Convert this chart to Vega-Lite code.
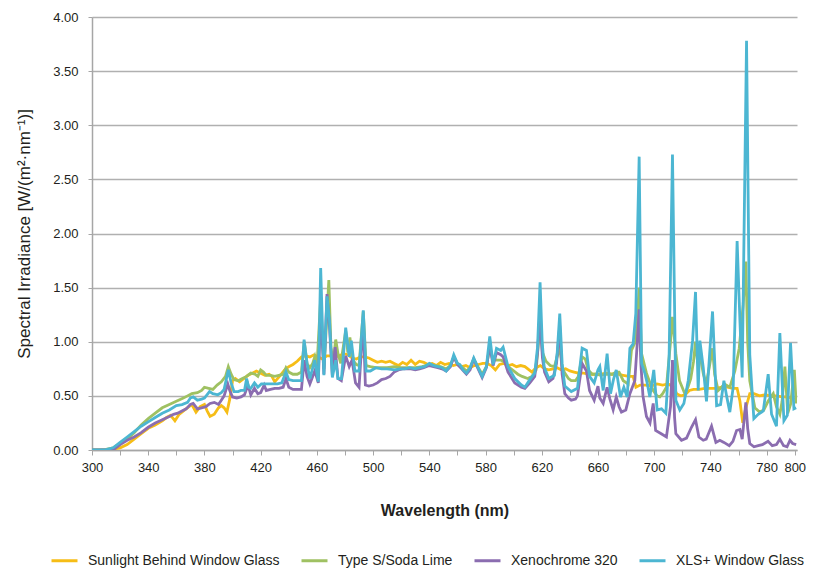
{
  "$schema": "https://vega.github.io/schema/vega-lite/v6.json",
  "width": 705,
  "height": 433,
  "autosize": {"type": "none"},
  "padding": {"left": 92, "top": 17, "right": 20, "bottom": 119},
  "background": "white",
  "config": {
    "font": "Liberation Sans, Arial",
    "view": {"stroke": null},
    "axis": {"labelColor": "#231f20", "titleColor": "#231f20", "domainColor": "#a6a6a6", "tickColor": "#a6a6a6", "gridColor": "#b0b0b0", "gridWidth": 1.5, "domainWidth": 1.5}
  },
  "datasets": {
    "sun": [{"nm":300,"v":0},{"nm":305,"v":0},{"nm":310,"v":0},{"nm":313,"v":0.005},{"nm":316,"v":0.01},{"nm":320,"v":0.02},{"nm":325,"v":0.05},{"nm":330,"v":0.1},{"nm":335,"v":0.15},{"nm":340,"v":0.2},{"nm":345,"v":0.23},{"nm":350,"v":0.27},{"nm":353,"v":0.3},{"nm":356,"v":0.32},{"nm":359,"v":0.27},{"nm":362,"v":0.33},{"nm":366,"v":0.37},{"nm":369,"v":0.4},{"nm":371,"v":0.42},{"nm":374,"v":0.35},{"nm":377,"v":0.4},{"nm":380,"v":0.42},{"nm":382,"v":0.36},{"nm":384,"v":0.31},{"nm":387,"v":0.33},{"nm":390,"v":0.39},{"nm":392,"v":0.41},{"nm":394,"v":0.39},{"nm":396,"v":0.35},{"nm":398,"v":0.47},{"nm":400,"v":0.64},{"nm":402,"v":0.66},{"nm":405,"v":0.63},{"nm":408,"v":0.66},{"nm":411,"v":0.69},{"nm":414,"v":0.71},{"nm":417,"v":0.73},{"nm":420,"v":0.71},{"nm":423,"v":0.69},{"nm":426,"v":0.7},{"nm":428,"v":0.68},{"nm":430,"v":0.63},{"nm":432,"v":0.66},{"nm":434,"v":0.69},{"nm":437,"v":0.74},{"nm":440,"v":0.77},{"nm":443,"v":0.79},{"nm":446,"v":0.82},{"nm":449,"v":0.86},{"nm":452,"v":0.87},{"nm":455,"v":0.86},{"nm":458,"v":0.88},{"nm":461,"v":0.86},{"nm":464,"v":0.84},{"nm":467,"v":0.87},{"nm":470,"v":0.87},{"nm":473,"v":0.86},{"nm":476,"v":0.87},{"nm":479,"v":0.89},{"nm":482,"v":0.88},{"nm":485,"v":0.85},{"nm":488,"v":0.84},{"nm":491,"v":0.86},{"nm":494,"v":0.86},{"nm":497,"v":0.85},{"nm":500,"v":0.83},{"nm":503,"v":0.81},{"nm":506,"v":0.82},{"nm":509,"v":0.81},{"nm":512,"v":0.82},{"nm":515,"v":0.8},{"nm":518,"v":0.78},{"nm":521,"v":0.81},{"nm":524,"v":0.79},{"nm":527,"v":0.83},{"nm":530,"v":0.79},{"nm":533,"v":0.82},{"nm":536,"v":0.81},{"nm":539,"v":0.79},{"nm":542,"v":0.8},{"nm":545,"v":0.78},{"nm":548,"v":0.81},{"nm":551,"v":0.79},{"nm":554,"v":0.8},{"nm":557,"v":0.78},{"nm":560,"v":0.79},{"nm":563,"v":0.77},{"nm":566,"v":0.78},{"nm":569,"v":0.76},{"nm":572,"v":0.78},{"nm":575,"v":0.79},{"nm":578,"v":0.8},{"nm":581,"v":0.8},{"nm":584,"v":0.78},{"nm":587,"v":0.74},{"nm":590,"v":0.79},{"nm":593,"v":0.8},{"nm":596,"v":0.78},{"nm":599,"v":0.79},{"nm":602,"v":0.77},{"nm":605,"v":0.78},{"nm":608,"v":0.77},{"nm":611,"v":0.74},{"nm":613,"v":0.72},{"nm":616,"v":0.76},{"nm":619,"v":0.78},{"nm":622,"v":0.75},{"nm":625,"v":0.74},{"nm":628,"v":0.75},{"nm":631,"v":0.76},{"nm":634,"v":0.74},{"nm":637,"v":0.75},{"nm":640,"v":0.73},{"nm":643,"v":0.72},{"nm":646,"v":0.71},{"nm":650,"v":0.71},{"nm":654,"v":0.7},{"nm":658,"v":0.7},{"nm":662,"v":0.7},{"nm":666,"v":0.71},{"nm":670,"v":0.7},{"nm":674,"v":0.7},{"nm":678,"v":0.69},{"nm":682,"v":0.68},{"nm":685,"v":0.68},{"nm":687,"v":0.58},{"nm":690,"v":0.6},{"nm":694,"v":0.6},{"nm":698,"v":0.59},{"nm":702,"v":0.61},{"nm":706,"v":0.6},{"nm":710,"v":0.61},{"nm":714,"v":0.58},{"nm":716,"v":0.52},{"nm":719,"v":0.5},{"nm":722,"v":0.51},{"nm":725,"v":0.55},{"nm":728,"v":0.56},{"nm":732,"v":0.56},{"nm":736,"v":0.57},{"nm":740,"v":0.57},{"nm":744,"v":0.57},{"nm":748,"v":0.58},{"nm":752,"v":0.58},{"nm":756,"v":0.57},{"nm":759,"v":0.57},{"nm":761,"v":0.45},{"nm":763,"v":0.25},{"nm":765,"v":0.38},{"nm":768,"v":0.52},{"nm":771,"v":0.52},{"nm":775,"v":0.5},{"nm":779,"v":0.51},{"nm":783,"v":0.5},{"nm":787,"v":0.5},{"nm":791,"v":0.49},{"nm":795,"v":0.49},{"nm":798,"v":0.48},{"nm":800,"v":0.47}],
    "typeS": [{"nm":300,"v":0},{"nm":305,"v":0},{"nm":310,"v":0.005},{"nm":315,"v":0.02},{"nm":320,"v":0.06},{"nm":325,"v":0.1},{"nm":330,"v":0.16},{"nm":335,"v":0.23},{"nm":340,"v":0.29},{"nm":345,"v":0.34},{"nm":350,"v":0.39},{"nm":355,"v":0.42},{"nm":360,"v":0.45},{"nm":365,"v":0.48},{"nm":368,"v":0.5},{"nm":371,"v":0.52},{"nm":375,"v":0.53},{"nm":378,"v":0.55},{"nm":380,"v":0.58},{"nm":383,"v":0.57},{"nm":386,"v":0.56},{"nm":389,"v":0.6},{"nm":392,"v":0.63},{"nm":395,"v":0.68},{"nm":397,"v":0.77},{"nm":399,"v":0.7},{"nm":401,"v":0.65},{"nm":404,"v":0.64},{"nm":407,"v":0.66},{"nm":410,"v":0.68},{"nm":413,"v":0.71},{"nm":416,"v":0.7},{"nm":418,"v":0.68},{"nm":420,"v":0.74},{"nm":422,"v":0.72},{"nm":424,"v":0.69},{"nm":427,"v":0.69},{"nm":430,"v":0.68},{"nm":433,"v":0.69},{"nm":436,"v":0.7},{"nm":438,"v":0.76},{"nm":440,"v":0.72},{"nm":443,"v":0.7},{"nm":446,"v":0.7},{"nm":449,"v":0.72},{"nm":451,"v":1.0},{"nm":453,"v":0.8},{"nm":455,"v":0.76},{"nm":457,"v":0.8},{"nm":458.5,"v":0.86},{"nm":460,"v":0.76},{"nm":462.7,"v":1.4},{"nm":465,"v":0.75},{"nm":467,"v":1.2},{"nm":468.5,"v":1.57},{"nm":470,"v":0.95},{"nm":471.5,"v":0.8},{"nm":473.4,"v":1.02},{"nm":475,"v":0.89},{"nm":477,"v":0.8},{"nm":480.5,"v":1.1},{"nm":482,"v":0.9},{"nm":483.5,"v":1.04},{"nm":485.5,"v":0.83},{"nm":488,"v":0.79},{"nm":490,"v":0.78},{"nm":493,"v":1.28},{"nm":495,"v":0.78},{"nm":498,"v":0.77},{"nm":502,"v":0.76},{"nm":506,"v":0.76},{"nm":510,"v":0.76},{"nm":515,"v":0.77},{"nm":520,"v":0.76},{"nm":525,"v":0.76},{"nm":530,"v":0.76},{"nm":535,"v":0.77},{"nm":540,"v":0.79},{"nm":544,"v":0.78},{"nm":548,"v":0.77},{"nm":552,"v":0.75},{"nm":555,"v":0.78},{"nm":557.4,"v":0.86},{"nm":560,"v":0.8},{"nm":563,"v":0.77},{"nm":566.4,"v":0.73},{"nm":569,"v":0.76},{"nm":571.6,"v":0.84},{"nm":574,"v":0.78},{"nm":577.6,"v":0.7},{"nm":580.6,"v":0.77},{"nm":583,"v":0.95},{"nm":585,"v":0.84},{"nm":588,"v":0.83},{"nm":591,"v":0.83},{"nm":594,"v":0.81},{"nm":597,"v":0.76},{"nm":600,"v":0.73},{"nm":603,"v":0.7},{"nm":606,"v":0.68},{"nm":610,"v":0.66},{"nm":613,"v":0.68},{"nm":616,"v":0.74},{"nm":619,"v":1.2},{"nm":620.5,"v":0.9},{"nm":623,"v":0.82},{"nm":626,"v":0.78},{"nm":629,"v":0.77},{"nm":632.8,"v":0.95},{"nm":634.5,"v":0.76},{"nm":636.4,"v":0.71},{"nm":639,"v":0.66},{"nm":641,"v":0.64},{"nm":644,"v":0.64},{"nm":646,"v":0.68},{"nm":648.7,"v":0.86},{"nm":651,"v":0.84},{"nm":653,"v":0.74},{"nm":656,"v":0.7},{"nm":659,"v":0.7},{"nm":662,"v":0.69},{"nm":666,"v":0.7},{"nm":670,"v":0.7},{"nm":673,"v":0.72},{"nm":675,"v":0.72},{"nm":678,"v":0.64},{"nm":681.5,"v":0.61},{"nm":683.8,"v":0.92},{"nm":686.9,"v":1.01},{"nm":689.3,"v":1.5},{"nm":691,"v":0.89},{"nm":694.5,"v":0.71},{"nm":697,"v":0.62},{"nm":699.3,"v":0.55},{"nm":702,"v":0.5},{"nm":704,"v":0.49},{"nm":706,"v":0.52},{"nm":708.7,"v":0.58},{"nm":711.6,"v":1.0},{"nm":713,"v":1.23},{"nm":715.4,"v":0.89},{"nm":718,"v":0.64},{"nm":721.8,"v":0.52},{"nm":724,"v":0.58},{"nm":726,"v":0.66},{"nm":728,"v":0.82},{"nm":729.4,"v":1.0},{"nm":731,"v":0.8},{"nm":732.5,"v":0.88},{"nm":735,"v":0.7},{"nm":737,"v":0.61},{"nm":739,"v":0.75},{"nm":741.5,"v":0.94},{"nm":743,"v":0.7},{"nm":745.5,"v":0.55},{"nm":748,"v":0.58},{"nm":750,"v":0.61},{"nm":753.8,"v":0.58},{"nm":757.4,"v":0.73},{"nm":760.5,"v":0.94},{"nm":763.3,"v":1.34},{"nm":765.2,"v":1.74},{"nm":766.5,"v":1.0},{"nm":768,"v":0.64},{"nm":771.6,"v":0.39},{"nm":775,"v":0.35},{"nm":778,"v":0.37},{"nm":781,"v":0.45},{"nm":784.7,"v":0.52},{"nm":787,"v":0.4},{"nm":789.4,"v":0.33},{"nm":791,"v":0.45},{"nm":793,"v":0.77},{"nm":795,"v":0.34},{"nm":797,"v":0.42},{"nm":799.7,"v":0.74},{"nm":801,"v":0.43}],
    "xeno": [{"nm":300,"v":0},{"nm":305,"v":0},{"nm":310,"v":0},{"nm":313,"v":0.003},{"nm":316,"v":0.01},{"nm":320,"v":0.05},{"nm":325,"v":0.09},{"nm":330,"v":0.12},{"nm":335,"v":0.16},{"nm":340,"v":0.21},{"nm":345,"v":0.25},{"nm":350,"v":0.28},{"nm":355,"v":0.31},{"nm":358,"v":0.33},{"nm":361,"v":0.34},{"nm":364,"v":0.36},{"nm":367,"v":0.38},{"nm":370,"v":0.42},{"nm":372,"v":0.43},{"nm":375,"v":0.38},{"nm":378,"v":0.39},{"nm":381,"v":0.4},{"nm":384,"v":0.43},{"nm":387,"v":0.44},{"nm":390,"v":0.42},{"nm":392,"v":0.46},{"nm":394,"v":0.5},{"nm":396.6,"v":0.61},{"nm":398,"v":0.55},{"nm":400,"v":0.49},{"nm":403,"v":0.48},{"nm":406,"v":0.49},{"nm":408.5,"v":0.51},{"nm":411,"v":0.6},{"nm":413,"v":0.51},{"nm":415.6,"v":0.57},{"nm":418,"v":0.52},{"nm":420,"v":0.53},{"nm":422.5,"v":0.6},{"nm":424,"v":0.55},{"nm":427,"v":0.56},{"nm":430,"v":0.57},{"nm":433,"v":0.57},{"nm":436,"v":0.58},{"nm":438,"v":0.66},{"nm":440,"v":0.58},{"nm":443,"v":0.56},{"nm":446,"v":0.56},{"nm":449,"v":0.56},{"nm":451,"v":0.83},{"nm":453,"v":0.68},{"nm":455,"v":0.61},{"nm":458.5,"v":0.73},{"nm":461,"v":0.62},{"nm":462.7,"v":1.3},{"nm":465,"v":0.7},{"nm":467.2,"v":1.44},{"nm":469,"v":1.13},{"nm":471,"v":0.69},{"nm":473,"v":0.95},{"nm":475,"v":0.66},{"nm":477.4,"v":0.64},{"nm":480.5,"v":0.87},{"nm":483,"v":0.77},{"nm":485,"v":0.83},{"nm":487.5,"v":0.62},{"nm":490,"v":0.58},{"nm":493,"v":1.2},{"nm":494.5,"v":0.6},{"nm":497,"v":0.59},{"nm":500,"v":0.6},{"nm":503,"v":0.62},{"nm":506,"v":0.65},{"nm":509,"v":0.66},{"nm":512,"v":0.68},{"nm":515,"v":0.72},{"nm":518,"v":0.74},{"nm":521,"v":0.75},{"nm":524,"v":0.75},{"nm":527,"v":0.75},{"nm":530,"v":0.74},{"nm":533,"v":0.75},{"nm":536,"v":0.76},{"nm":540,"v":0.78},{"nm":543,"v":0.77},{"nm":546,"v":0.76},{"nm":549,"v":0.75},{"nm":552,"v":0.73},{"nm":555,"v":0.77},{"nm":557.4,"v":0.86},{"nm":560,"v":0.79},{"nm":563,"v":0.75},{"nm":566.4,"v":0.7},{"nm":569,"v":0.74},{"nm":571.6,"v":0.84},{"nm":574,"v":0.77},{"nm":577.6,"v":0.67},{"nm":580.6,"v":0.76},{"nm":583,"v":0.97},{"nm":585.4,"v":0.78},{"nm":587.8,"v":0.9},{"nm":590.8,"v":0.88},{"nm":592.5,"v":0.86},{"nm":596,"v":0.72},{"nm":600.8,"v":0.62},{"nm":605.5,"v":0.58},{"nm":608,"v":0.57},{"nm":611.5,"v":0.62},{"nm":615,"v":0.68},{"nm":617,"v":0.9},{"nm":618.6,"v":1.25},{"nm":620.5,"v":0.85},{"nm":622,"v":0.72},{"nm":625,"v":0.63},{"nm":628,"v":0.66},{"nm":630.5,"v":0.8},{"nm":632.8,"v":1.15},{"nm":634.5,"v":0.7},{"nm":636.4,"v":0.52},{"nm":639,"v":0.48},{"nm":641,"v":0.46},{"nm":644,"v":0.47},{"nm":645.4,"v":0.5},{"nm":648.7,"v":0.8},{"nm":651.8,"v":0.73},{"nm":654,"v":0.55},{"nm":657.3,"v":0.46},{"nm":660,"v":0.59},{"nm":661.3,"v":0.48},{"nm":663.7,"v":0.43},{"nm":666.5,"v":0.58},{"nm":668.5,"v":0.47},{"nm":670.8,"v":0.37},{"nm":673,"v":0.49},{"nm":675,"v":0.4},{"nm":676.7,"v":0.35},{"nm":679.8,"v":0.37},{"nm":682.7,"v":0.52},{"nm":686.2,"v":0.64},{"nm":688,"v":1.0},{"nm":689.3,"v":1.3},{"nm":690.5,"v":0.8},{"nm":692,"v":0.5},{"nm":694.5,"v":0.31},{"nm":697,"v":0.25},{"nm":699.3,"v":0.43},{"nm":701,"v":0.18},{"nm":705,"v":0.15},{"nm":708.7,"v":0.12},{"nm":711.6,"v":0.4},{"nm":713,"v":0.83},{"nm":714.5,"v":0.3},{"nm":715.4,"v":0.15},{"nm":719.4,"v":0.09},{"nm":723,"v":0.11},{"nm":726.5,"v":0.21},{"nm":729.4,"v":0.28},{"nm":731.8,"v":0.12},{"nm":734.9,"v":0.09},{"nm":737,"v":0.1},{"nm":740.8,"v":0.22},{"nm":743.9,"v":0.07},{"nm":746.7,"v":0.09},{"nm":749.6,"v":0.07},{"nm":753.4,"v":0.04},{"nm":756,"v":0.08},{"nm":758.6,"v":0.18},{"nm":761,"v":0.19},{"nm":762.6,"v":0.1},{"nm":765.2,"v":0.44},{"nm":766.5,"v":0.2},{"nm":768,"v":0.06},{"nm":771,"v":0.03},{"nm":774,"v":0.04},{"nm":777,"v":0.05},{"nm":781,"v":0.08},{"nm":784,"v":0.04},{"nm":787,"v":0.05},{"nm":789.4,"v":0.1},{"nm":792,"v":0.04},{"nm":794.5,"v":0.03},{"nm":796.6,"v":0.09},{"nm":798.5,"v":0.06},{"nm":801,"v":0.05}],
    "xls": [{"nm":300,"v":0},{"nm":305,"v":0},{"nm":310,"v":0.003},{"nm":315,"v":0.02},{"nm":320,"v":0.07},{"nm":325,"v":0.12},{"nm":330,"v":0.17},{"nm":335,"v":0.22},{"nm":340,"v":0.26},{"nm":345,"v":0.3},{"nm":350,"v":0.34},{"nm":355,"v":0.37},{"nm":360,"v":0.41},{"nm":364,"v":0.42},{"nm":368,"v":0.44},{"nm":370,"v":0.48},{"nm":372,"v":0.49},{"nm":375,"v":0.46},{"nm":378,"v":0.47},{"nm":380,"v":0.48},{"nm":383.6,"v":0.54},{"nm":386,"v":0.52},{"nm":389.5,"v":0.51},{"nm":392,"v":0.53},{"nm":394,"v":0.56},{"nm":397,"v":0.74},{"nm":399,"v":0.62},{"nm":401,"v":0.54},{"nm":404,"v":0.54},{"nm":406,"v":0.55},{"nm":408.5,"v":0.55},{"nm":410,"v":0.66},{"nm":411.5,"v":0.58},{"nm":413,"v":0.57},{"nm":415.6,"v":0.62},{"nm":418,"v":0.58},{"nm":420.5,"v":0.61},{"nm":423,"v":0.61},{"nm":426,"v":0.61},{"nm":429,"v":0.61},{"nm":432,"v":0.61},{"nm":435,"v":0.62},{"nm":438,"v":0.72},{"nm":440,"v":0.65},{"nm":443,"v":0.64},{"nm":446,"v":0.64},{"nm":449,"v":0.64},{"nm":450.9,"v":1.02},{"nm":453,"v":0.8},{"nm":455,"v":0.66},{"nm":458.5,"v":0.83},{"nm":461,"v":0.63},{"nm":462.7,"v":1.68},{"nm":465,"v":0.69},{"nm":467.2,"v":1.42},{"nm":469,"v":1.19},{"nm":471,"v":0.67},{"nm":473.4,"v":0.83},{"nm":475,"v":0.66},{"nm":477.5,"v":0.66},{"nm":480.5,"v":1.13},{"nm":483,"v":0.86},{"nm":484.5,"v":1.01},{"nm":487,"v":0.73},{"nm":490,"v":0.73},{"nm":493,"v":1.29},{"nm":495,"v":0.73},{"nm":498,"v":0.73},{"nm":502,"v":0.76},{"nm":506,"v":0.75},{"nm":510,"v":0.75},{"nm":515.4,"v":0.74},{"nm":519,"v":0.75},{"nm":522.5,"v":0.75},{"nm":526,"v":0.76},{"nm":529.6,"v":0.75},{"nm":533,"v":0.76},{"nm":536.7,"v":0.77},{"nm":540,"v":0.8},{"nm":543,"v":0.78},{"nm":546,"v":0.77},{"nm":549,"v":0.76},{"nm":552,"v":0.73},{"nm":555,"v":0.78},{"nm":557.4,"v":0.88},{"nm":560,"v":0.8},{"nm":561.7,"v":0.79},{"nm":564,"v":0.74},{"nm":566.4,"v":0.71},{"nm":569,"v":0.76},{"nm":571.6,"v":0.85},{"nm":574,"v":0.78},{"nm":577.6,"v":0.68},{"nm":580.6,"v":0.77},{"nm":583,"v":1.05},{"nm":585.4,"v":0.79},{"nm":587.8,"v":0.94},{"nm":590.8,"v":0.92},{"nm":592.5,"v":0.95},{"nm":596,"v":0.77},{"nm":600.8,"v":0.66},{"nm":605.5,"v":0.6},{"nm":608,"v":0.58},{"nm":611.5,"v":0.65},{"nm":615,"v":0.71},{"nm":617,"v":0.95},{"nm":618.8,"v":1.55},{"nm":620.3,"v":1.0},{"nm":621.7,"v":0.77},{"nm":625,"v":0.66},{"nm":629,"v":0.69},{"nm":631,"v":0.9},{"nm":632.8,"v":1.26},{"nm":634.5,"v":0.8},{"nm":636.4,"v":0.59},{"nm":641,"v":0.54},{"nm":645.4,"v":0.57},{"nm":647,"v":0.75},{"nm":648.7,"v":0.94},{"nm":651.8,"v":0.92},{"nm":654,"v":0.68},{"nm":657.3,"v":0.62},{"nm":660,"v":0.74},{"nm":661.3,"v":0.77},{"nm":663.7,"v":0.55},{"nm":666.5,"v":0.89},{"nm":668.9,"v":0.52},{"nm":671,"v":0.65},{"nm":673,"v":0.74},{"nm":676,"v":0.49},{"nm":678.4,"v":0.58},{"nm":680.8,"v":0.49},{"nm":682.7,"v":0.94},{"nm":685,"v":0.98},{"nm":686.9,"v":1.26},{"nm":689.3,"v":2.71},{"nm":691,"v":0.8},{"nm":693.3,"v":0.71},{"nm":695,"v":0.62},{"nm":696.9,"v":0.49},{"nm":699.7,"v":0.74},{"nm":702.1,"v":0.37},{"nm":705.2,"v":0.38},{"nm":708.3,"v":0.34},{"nm":710.6,"v":0.86},{"nm":713,"v":2.73},{"nm":715.4,"v":0.46},{"nm":718.2,"v":0.37},{"nm":721.1,"v":0.43},{"nm":724.2,"v":0.64},{"nm":727.3,"v":1.01},{"nm":729.4,"v":1.46},{"nm":731.3,"v":0.55},{"nm":732.5,"v":1.01},{"nm":734.9,"v":0.76},{"nm":737.2,"v":0.45},{"nm":739.5,"v":0.9},{"nm":741.5,"v":1.28},{"nm":744.4,"v":0.41},{"nm":747.2,"v":0.42},{"nm":749.6,"v":0.64},{"nm":751.5,"v":0.5},{"nm":753.8,"v":0.35},{"nm":756.2,"v":0.58},{"nm":759,"v":1.93},{"nm":761,"v":1.19},{"nm":762.6,"v":0.67},{"nm":765.7,"v":3.78},{"nm":768,"v":0.88},{"nm":770.9,"v":0.29},{"nm":774,"v":0.33},{"nm":777.6,"v":0.36},{"nm":781.1,"v":0.7},{"nm":783.5,"v":0.33},{"nm":787,"v":0.22},{"nm":789.4,"v":1.08},{"nm":792.3,"v":0.27},{"nm":794.7,"v":0.32},{"nm":797,"v":0.99},{"nm":799.4,"v":0.38},{"nm":801,"v":0.39}]
  },
  "encoding": {
    "x": {"field": "nm", "type": "quantitative", "scale": {"domain": [300, 801.6], "nice": false, "zero": false},
      "axis": {"values": [300,320,340,360,380,400,420,440,460,480,500,520,540,560,580,600,620,640,660,680,700,720,740,760,780,800],
        "labelExpr": "((datum.value - 300) % 40 == 0 || datum.value == 800) ? datum.label : ''",
        "labelOverlap": false, "labelFlush": false, "grid": false, "tickSize": 5, "labelPadding": 6, "labelFontSize": 13,
        "title": "Wavelength (nm)", "titleFontSize": 16, "titleFontWeight": "bold", "titlePadding": 28}},
    "y": {"field": "v", "type": "quantitative", "scale": {"domain": [0, 4], "nice": false},
      "axis": {"values": [0,0.5,1,1.5,2,2.5,3,3.5,4], "format": ".2f", "grid": true, "tickSize": 4, "labelPadding": 10, "labelFontSize": 13,
        "title": "Spectral Irradiance [W/(m²·nm⁻¹)]", "titleFontSize": 17, "titleFontWeight": "normal", "titlePadding": 19}},
    "color": {"type": "nominal",
      "scale": {"domain": ["Sunlight Behind Window Glass", "Type S/Soda Lime", "Xenochrome 320", "XLS+ Window Glass"], "range": ["#F6BD16", "#9FC162", "#8B6DB0", "#4CB6D2"]},
      "legend": {"title": null, "orient": "none", "legendX": -42, "legendY": 529, "direction": "horizontal", "symbolType": "stroke", "symbolSize": 676, "symbolStrokeWidth": 3, "labelFontSize": 14, "labelLimit": 400, "labelColor": "#231f20", "columnPadding": 15, "labelOffset": 9}}
  },
  "layer": [
    {"data": {"name": "sun"}, "mark": {"type": "line", "strokeWidth": 2.8, "clip": true}, "encoding": {"color": {"datum": "Sunlight Behind Window Glass"}}},
    {"data": {"name": "typeS"}, "mark": {"type": "line", "strokeWidth": 2.8, "clip": true}, "encoding": {"color": {"datum": "Type S/Soda Lime"}}},
    {"data": {"name": "xeno"}, "mark": {"type": "line", "strokeWidth": 2.8, "clip": true}, "encoding": {"color": {"datum": "Xenochrome 320"}}},
    {"data": {"name": "xls"}, "mark": {"type": "line", "strokeWidth": 2.8, "clip": true}, "encoding": {"color": {"datum": "XLS+ Window Glass"}}}
  ]
}
